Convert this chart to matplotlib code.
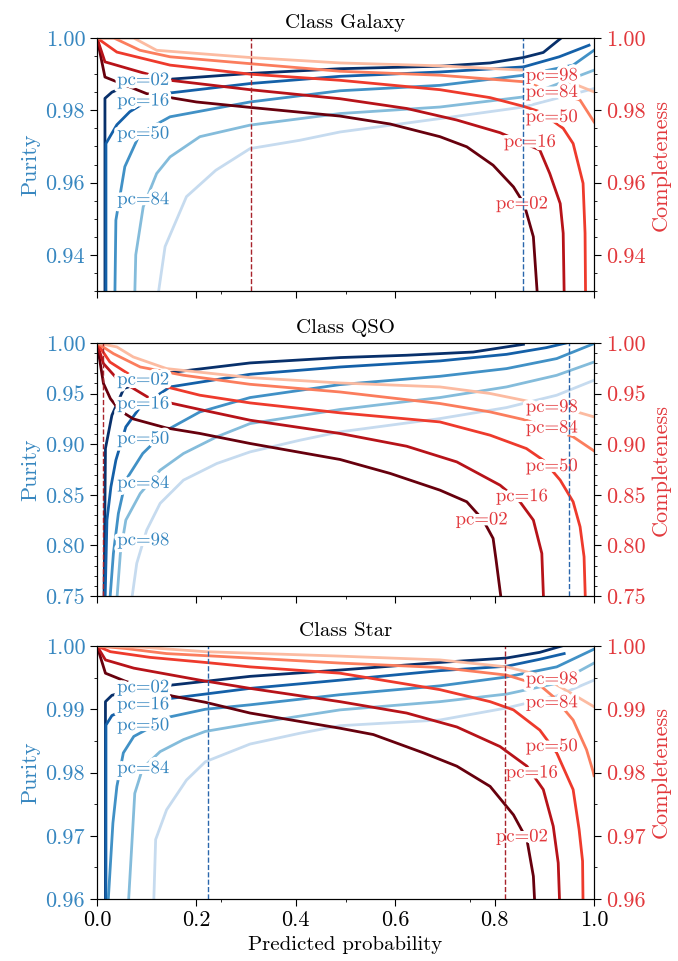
import matplotlib
matplotlib.use('Agg')
import matplotlib.pyplot as plt
from matplotlib.ticker import MultipleLocator, FormatStrFormatter
import matplotlib.patheffects as pe

plt.rcParams['font.family'] = 'serif'
plt.rcParams['font.serif'] = ['cmr10']
plt.rcParams['mathtext.fontset'] = 'cm'
plt.rcParams['axes.formatter.use_mathtext'] = True
plt.rcParams['axes.unicode_minus'] = False

# ---------------- data ----------------
percentiles = ['02', '16', '50', '84', '98']
classes = ['Galaxy', 'QSO', 'Star']

# Galaxy
galaxy_pur_x = [
    [0.016, 0.016, 0.03, 0.06, 0.147, 0.308, 0.489, 0.69, 0.791, 0.858, 0.898, 0.934],
    [0.018, 0.018, 0.04, 0.066, 0.10, 0.147, 0.308, 0.489, 0.69, 0.858, 0.93, 0.99],
    [0.036, 0.038, 0.056, 0.0865, 0.147, 0.308, 0.489, 0.69, 0.858, 0.958, 1.0],
    [0.076, 0.078, 0.093, 0.12, 0.147, 0.207, 0.308, 0.489, 0.69, 0.858, 1.0],
    [0.123, 0.137, 0.18, 0.239, 0.308, 0.408, 0.489, 0.69, 0.858, 1.0],
]
galaxy_pur_y = [
    [0.929, 0.9833, 0.9850, 0.9868, 0.9886, 0.9902, 0.9915, 0.9922, 0.9931, 0.9946, 0.9960, 1.0],
    [0.929, 0.9708, 0.9760, 0.9796, 0.9825, 0.9848, 0.9874, 0.9894, 0.9906, 0.9920, 0.9948, 0.9980],
    [0.929, 0.9496, 0.9644, 0.9736, 0.9782, 0.9823, 0.9854, 0.9869, 0.9897, 0.9925, 0.9966],
    [0.929, 0.9400, 0.9533, 0.9625, 0.9671, 0.9727, 0.9759, 0.9791, 0.9809, 0.9837, 0.9911],
    [0.929, 0.9423, 0.9561, 0.9634, 0.9694, 0.9717, 0.9740, 0.9777, 0.9809, 0.9860],
]
galaxy_com_x = [
    [0, 0.016, 0.1, 0.2, 0.308, 0.489, 0.59, 0.69, 0.744, 0.797, 0.838, 0.859, 0.878, 0.886],
    [0, 0.016, 0.0865, 0.147, 0.308, 0.489, 0.623, 0.724, 0.811, 0.891, 0.911, 0.932, 0.938, 0.940],
    [0, 0.04, 0.147, 0.308, 0.489, 0.69, 0.791, 0.858, 0.891, 0.938, 0.958, 0.978, 0.982, 0.983],
    [0, 0.034, 0.0865, 0.147, 0.308, 0.489, 0.69, 0.858, 0.972, 1.0],
    [0, 0.074, 0.12, 0.308, 0.489, 0.69, 0.858, 0.958, 1.0],
]
galaxy_com_y = [
    [1.0, 0.9892, 0.9846, 0.9823, 0.9808, 0.9784, 0.9762, 0.9727, 0.9699, 0.9648, 0.9588, 0.9542, 0.9450, 0.929],
    [1.0, 0.9934, 0.9906, 0.9883, 0.9857, 0.9832, 0.9805, 0.9773, 0.9738, 0.9690, 0.9625, 0.9542, 0.9460, 0.929],
    [1.0, 0.9961, 0.9925, 0.9900, 0.9883, 0.9857, 0.9835, 0.9811, 0.9796, 0.9750, 0.9708, 0.9598, 0.9460, 0.929],
    [1.0, 1.0, 0.9966, 0.9948, 0.9929, 0.9908, 0.9897, 0.9879, 0.9828, 0.9768],
    [1.0, 1.0, 0.9966, 0.9946, 0.9931, 0.9923, 0.9911, 0.9874, 0.9851],
]

# QSO
qso_pur_x = [
    [0.014, 0.017, 0.030, 0.054, 0.147, 0.308, 0.489, 0.623, 0.757, 0.858],
    [0.016, 0.020, 0.028, 0.038, 0.058, 0.087, 0.147, 0.308, 0.489, 0.69, 0.824, 0.904, 0.944],
    [0.025, 0.033, 0.043, 0.058, 0.092, 0.140, 0.207, 0.308, 0.489, 0.69, 0.824, 0.925, 1.0],
    [0.039, 0.047, 0.058, 0.087, 0.127, 0.174, 0.241, 0.308, 0.489, 0.69, 0.824, 0.925, 1.0],
    [0.068, 0.080, 0.100, 0.127, 0.174, 0.241, 0.308, 0.408, 0.489, 0.69, 0.824, 0.925, 1.0],
]
qso_pur_y = [
    [0.74, 0.8958, 0.9286, 0.9550, 0.9708, 0.9803, 0.9856, 0.9879, 0.9911, 0.9987],
    [0.74, 0.8250, 0.8579, 0.8842, 0.9171, 0.9368, 0.9566, 0.9691, 0.9763, 0.9823, 0.9888, 0.9954, 1.0],
    [0.74, 0.7921, 0.8316, 0.8645, 0.8908, 0.9138, 0.9319, 0.9461, 0.9589, 0.9671, 0.9747, 0.9846, 0.9994],
    [0.74, 0.7921, 0.8250, 0.8513, 0.8743, 0.8908, 0.9073, 0.9204, 0.9343, 0.9461, 0.9566, 0.9681, 0.9812],
    [0.74, 0.7823, 0.8151, 0.8415, 0.8645, 0.8809, 0.8924, 0.9039, 0.9122, 0.9253, 0.9362, 0.9484, 0.9632],
]
qso_com_x = [
    [0, 0.013, 0.027, 0.045, 0.073, 0.140, 0.207, 0.308, 0.489, 0.590, 0.690, 0.744, 0.777, 0.797, 0.803, 0.815],
    [0, 0.013, 0.04, 0.107, 0.207, 0.308, 0.489, 0.623, 0.724, 0.811, 0.851, 0.878, 0.895, 0.899],
    [0, 0.026, 0.073, 0.140, 0.207, 0.308, 0.489, 0.690, 0.791, 0.864, 0.898, 0.932, 0.958, 0.972, 0.980, 0.983],
    [0, 0.033, 0.087, 0.174, 0.308, 0.489, 0.690, 0.791, 0.864, 0.958, 1.0],
    [0, 0.04, 0.073, 0.140, 0.308, 0.489, 0.690, 0.791, 0.858, 0.972, 1.0],
]
qso_com_y = [
    [1.0, 0.9600, 0.9450, 0.9336, 0.9250, 0.9160, 0.9106, 0.9007, 0.8849, 0.8711, 0.8546, 0.8431, 0.8250, 0.8069, 0.7855, 0.74],
    [1.0, 0.9797, 0.9649, 0.9451, 0.9343, 0.9237, 0.9106, 0.8980, 0.8825, 0.8595, 0.8431, 0.8250, 0.7921, 0.74],
    [1.0, 0.9812, 0.9664, 0.9566, 0.9484, 0.9408, 0.9310, 0.9220, 0.9089, 0.8957, 0.8842, 0.8645, 0.8431, 0.8184, 0.7888, 0.74],
    [1.0, 0.9895, 0.9763, 0.9681, 0.9592, 0.9516, 0.9402, 0.9319, 0.9237, 0.9073, 0.8934],
    [1.0, 0.9961, 0.9862, 0.9747, 0.9658, 0.9605, 0.9566, 0.9501, 0.9434, 0.9310, 0.9270],
]

# Star
star_pur_x = [
    [0.017, 0.017, 0.03, 0.07, 0.147, 0.308, 0.489, 0.690, 0.824, 0.891, 0.935],
    [0.018, 0.018, 0.03, 0.07, 0.147, 0.308, 0.489, 0.690, 0.824, 0.891, 0.940],
    [0.022, 0.032, 0.040, 0.053, 0.074, 0.147, 0.218, 0.308, 0.489, 0.690, 0.824, 0.925, 1.0],
    [0.063, 0.076, 0.092, 0.127, 0.174, 0.218, 0.308, 0.489, 0.690, 0.824, 0.925, 1.0],
    [0.114, 0.118, 0.140, 0.180, 0.218, 0.308, 0.408, 0.489, 0.690, 0.824, 0.925, 1.0],
]
star_pur_y = [
    [0.959, 0.9912, 0.9922, 0.9931, 0.9938, 0.9952, 0.9962, 0.9974, 0.9981, 0.9990, 1.0],
    [0.959, 0.9875, 0.9890, 0.9905, 0.9917, 0.9933, 0.9946, 0.9961, 0.9968, 0.9979, 0.9988],
    [0.959, 0.9720, 0.9778, 0.9831, 0.9857, 0.9888, 0.9900, 0.9907, 0.9923, 0.9937, 0.9951, 0.9967, 0.9995],
    [0.959, 0.9767, 0.9807, 0.9833, 0.9852, 0.9865, 0.9877, 0.9899, 0.9912, 0.9924, 0.9941, 0.9973],
    [0.959, 0.9694, 0.9741, 0.9788, 0.9817, 0.9845, 0.9862, 0.9874, 0.9883, 0.9902, 0.9921, 0.9946],
]
star_com_x = [
    [0, 0.017, 0.058, 0.151, 0.218, 0.308, 0.489, 0.556, 0.657, 0.724, 0.791, 0.838, 0.865, 0.878, 0.881],
    [0, 0.017, 0.074, 0.207, 0.308, 0.489, 0.623, 0.724, 0.811, 0.865, 0.898, 0.918, 0.928, 0.931],
    [0, 0.027, 0.107, 0.218, 0.308, 0.489, 0.690, 0.791, 0.838, 0.891, 0.925, 0.958, 0.970, 0.977, 0.978],
    [0, 0.058, 0.140, 0.308, 0.489, 0.690, 0.824, 0.891, 0.918, 0.958, 0.985, 0.998, 1.0],
    [0, 0.093, 0.218, 0.489, 0.690, 0.824, 0.891, 0.972, 1.0],
]
star_com_y = [
    [1.0, 0.9957, 0.9944, 0.9921, 0.9911, 0.9894, 0.9870, 0.9860, 0.9831, 0.9810, 0.9778, 0.9733, 0.9694, 0.9636, 0.959],
    [1.0, 0.9978, 0.9965, 0.9946, 0.9933, 0.9912, 0.9894, 0.9872, 0.9841, 0.9810, 0.9773, 0.9715, 0.9657, 0.959],
    [1.0, 0.9991, 0.9982, 0.9974, 0.9967, 0.9957, 0.9931, 0.9912, 0.9899, 0.9867, 0.9831, 0.9773, 0.9710, 0.9660, 0.959],
    [1.0, 0.9996, 0.9988, 0.9981, 0.9973, 0.9966, 0.9954, 0.9938, 0.9920, 0.9883, 0.9836, 0.9802, 0.9795],
    [1.0, 0.9998, 0.9991, 0.9984, 0.9978, 0.9967, 0.9954, 0.9917, 0.9904],
]

# threshold markers (vertical dashed lines): [completeness-colour, purity-colour]
galaxy_vlines = [0.309, 0.858]
qso_vlines = [0.012, 0.950]
star_vlines = [0.8216, 0.2227]

# inline label anchor points (x, y) for each percentile
galaxy_pur_labels = {'02': (0.093, 0.9884), '16': (0.093, 0.9827), '50': (0.093, 0.9736), '84': (0.093, 0.9554)}
galaxy_com_labels = {'98': (0.915, 0.9897), '84': (0.915, 0.9851), '50': (0.915, 0.9782), '16': (0.871, 0.9713), '02': (0.855, 0.9542)}
qso_pur_labels = {'02': (0.093, 0.9639), '16': (0.093, 0.9402), '50': (0.093, 0.9056), '84': (0.093, 0.8618), '98': (0.093, 0.8053)}
qso_com_labels = {'98': (0.915, 0.9369), '84': (0.915, 0.9165), '50': (0.915, 0.8786), '16': (0.855, 0.8487), '02': (0.774, 0.8257)}
star_pur_labels = {'02': (0.093, 0.9935), '16': (0.093, 0.9908), '50': (0.093, 0.9875), '84': (0.093, 0.9807)}
star_com_labels = {'98': (0.915, 0.9948), '84': (0.915, 0.9911), '50': (0.915, 0.9842), '16': (0.875, 0.9800), '02': (0.855, 0.9699)}

ylims = [(0.93, 1.00), (0.75, 1.00), (0.96, 1.00)]
ymajor = [0.02, 0.05, 0.01]
yminor = [0.005, 0.01, 0.005]

# ---------------- style ----------------
shade = [1.0, 0.8125, 0.625, 0.4375, 0.25]
blues = plt.get_cmap('Blues')
reds = plt.get_cmap('Reds')
blue_cols = [blues(s) for s in shade]
red_cols = [reds(s) for s in shade]
blue_txt = '#3787c0'
red_txt = '#e2383c'
vline_red = '#a8232b'
vline_blue = '#2a66ac'

panels = [
    (galaxy_pur_x, galaxy_pur_y, galaxy_com_x, galaxy_com_y, galaxy_vlines, galaxy_pur_labels, galaxy_com_labels),
    (qso_pur_x, qso_pur_y, qso_com_x, qso_com_y, qso_vlines, qso_pur_labels, qso_com_labels),
    (star_pur_x, star_pur_y, star_com_x, star_com_y, star_vlines, star_pur_labels, star_com_labels),
]

fig = plt.figure(figsize=(6.78, 9.61), dpi=100)
W, H = 678, 961
ax_left, ax_w, ax_h = 97 / W, 497 / W, 253 / H
tops = [38, 343, 646]

halo = [pe.withStroke(linewidth=5, foreground='white')]

for i, (cls, pan) in enumerate(zip(classes, panels)):
    px, py, cx, cy, vl, plab, clab = pan
    bottom = 1 - (tops[i] + 253) / H
    ax = fig.add_axes([ax_left, bottom, ax_w, ax_h])
    for k in range(5):
        ax.plot(px[k], py[k], color=blue_cols[k], lw=2.0, zorder=2)
    for k in range(5):
        ax.plot(cx[k], cy[k], color=red_cols[k], lw=2.0, zorder=2)
    for pc, (lx, ly) in plab.items():
        ax.text(lx, ly, 'pc=' + pc, color=blue_txt, fontsize=13.5, ha='center', va='center',
                path_effects=halo, zorder=3)
    for pc, (lx, ly) in clab.items():
        ax.text(lx, ly, 'pc=' + pc, color=red_txt, fontsize=13.5, ha='center', va='center',
                path_effects=halo, zorder=3)
    ax.axvline(vl[0], color=vline_red, lw=1.0, ls='--', zorder=4)
    ax.axvline(vl[1], color=vline_blue, lw=1.0, ls='--', zorder=4)

    ax.set_xlim(0, 1)
    ax.set_ylim(*ylims[i])
    ax.xaxis.set_major_locator(MultipleLocator(0.2))
    ax.xaxis.set_minor_locator(MultipleLocator(0.25))
    ax.xaxis.set_major_formatter(FormatStrFormatter('%.1f'))
    ax.yaxis.set_major_locator(MultipleLocator(ymajor[i]))
    ax.yaxis.set_minor_locator(MultipleLocator(yminor[i]))
    ax.yaxis.set_major_formatter(FormatStrFormatter('%.2f'))
    ax.tick_params(which='major', length=5, labelsize=16)
    ax.tick_params(which='minor', length=2.5)
    ax.tick_params(axis='y', labelcolor=blue_txt)
    if i < 2:
        ax.tick_params(axis='x', labelbottom=False)
    else:
        ax.set_xlabel('Predicted probability', fontsize=15)
    ax.set_ylabel('Purity', color=blue_txt, fontsize=16)
    ax.set_title('Class ' + cls, fontsize=15, pad=7)

    ax2 = ax.twinx()
    ax2.set_ylim(*ylims[i])
    ax2.yaxis.set_major_locator(MultipleLocator(ymajor[i]))
    ax2.yaxis.set_minor_locator(MultipleLocator(yminor[i]))
    ax2.yaxis.set_major_formatter(FormatStrFormatter('%.2f'))
    ax2.tick_params(which='major', length=5, labelsize=16, labelcolor=red_txt)
    ax2.tick_params(which='minor', length=2.5)
    ax2.set_ylabel('Completeness', color=red_txt, fontsize=16)

fig.savefig('out.png', dpi=100)
